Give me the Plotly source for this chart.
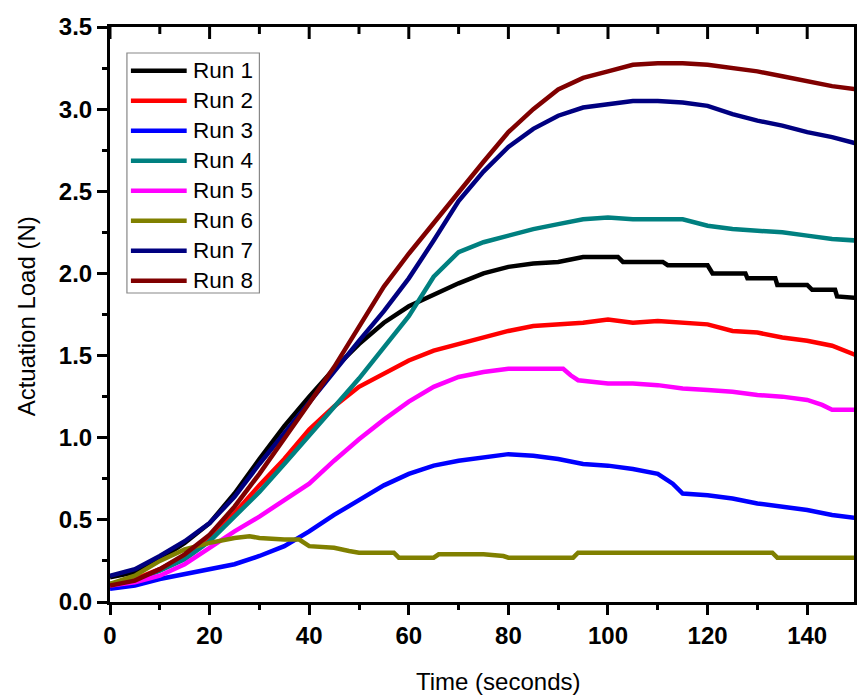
import plotly.graph_objects as go

# ---------------- data ----------------
run_names = ["Run 1", "Run 2", "Run 3", "Run 4", "Run 5", "Run 6", "Run 7", "Run 8"]
run_colors = ["#000000", "#FF0000", "#0000FF", "#008080", "#FF00FF", "#808000", "#000080", "#800000"]

t_grid = [0, 5, 10, 15, 20, 25, 30, 35, 40, 45, 50, 55, 60, 65, 70, 75, 80, 85, 90, 95,
          100, 105, 110, 115, 120, 125, 130, 135, 140, 145, 150]

t_run1 = [0, 5, 10, 15, 20, 25, 30, 35, 40, 45, 50, 55, 60, 65, 70, 75, 80, 85, 90, 95,
          100, 102, 103, 111, 112, 120, 121, 127.6, 128, 133.6, 134, 140, 141, 145.6, 146, 150]
v_run1 = [0.15, 0.18, 0.26, 0.36, 0.48, 0.66, 0.87, 1.07, 1.25, 1.42, 1.57, 1.70, 1.80, 1.87, 1.94, 2.00, 2.04, 2.06, 2.07, 2.10,
          2.10, 2.10, 2.07, 2.07, 2.05, 2.05, 2.00, 2.00, 1.97, 1.97, 1.93, 1.93, 1.90, 1.90, 1.86, 1.85]

t_run2 = t_grid
v_run2 = [0.11, 0.14, 0.20, 0.28, 0.39, 0.54, 0.71, 0.87, 1.05, 1.19, 1.31, 1.39, 1.47, 1.53, 1.57, 1.61, 1.65, 1.68, 1.69, 1.70,
          1.72, 1.70, 1.71, 1.70, 1.69, 1.65, 1.64, 1.61, 1.59, 1.56, 1.50]

t_run3 = [0, 5, 10, 15, 20, 25, 30, 35, 40, 45, 50, 55, 60, 65, 70, 75, 80, 85, 90, 95,
          100, 105, 110, 113, 115, 120, 125, 130, 135, 140, 145, 150]
v_run3 = [0.08, 0.10, 0.14, 0.17, 0.20, 0.23, 0.28, 0.34, 0.43, 0.53, 0.62, 0.71, 0.78, 0.83, 0.86, 0.88, 0.90, 0.89, 0.87, 0.84,
          0.83, 0.81, 0.78, 0.72, 0.66, 0.65, 0.63, 0.60, 0.58, 0.56, 0.53, 0.51]

t_run4 = t_grid
v_run4 = [0.11, 0.13, 0.19, 0.26, 0.37, 0.52, 0.67, 0.84, 1.01, 1.18, 1.36, 1.55, 1.74, 1.98, 2.13, 2.19, 2.23, 2.27, 2.30, 2.33,
          2.34, 2.33, 2.33, 2.33, 2.29, 2.27, 2.26, 2.25, 2.23, 2.21, 2.20]

t_run5 = [0, 5, 10, 15, 20, 25, 30, 35, 40, 45, 50, 55, 60, 65, 70, 75, 80, 85, 91, 92.5, 94,
          100, 105, 110, 115, 120, 125, 130, 135, 140, 143, 145, 150]
v_run5 = [0.10, 0.12, 0.16, 0.23, 0.33, 0.43, 0.52, 0.62, 0.72, 0.86, 0.99, 1.11, 1.22, 1.31, 1.37, 1.40, 1.42, 1.42, 1.42, 1.38, 1.35,
          1.33, 1.33, 1.32, 1.30, 1.29, 1.28, 1.26, 1.25, 1.23, 1.20, 1.17, 1.17]

t_run6 = [0, 5, 10, 15, 20, 25, 28, 30, 35, 38, 40, 45, 48, 50, 57, 58, 65, 66, 70, 75, 79, 80, 93, 94,
          100, 110, 120, 133, 134, 140, 150]
v_run6 = [0.11, 0.16, 0.25, 0.32, 0.36, 0.39, 0.40, 0.39, 0.38, 0.38, 0.34, 0.33, 0.31, 0.30, 0.30, 0.27, 0.27, 0.29, 0.29, 0.29, 0.28, 0.27, 0.27, 0.30,
          0.30, 0.30, 0.30, 0.30, 0.27, 0.27, 0.27]

t_run7 = t_grid
v_run7 = [0.16, 0.20, 0.28, 0.37, 0.48, 0.64, 0.84, 1.03, 1.22, 1.40, 1.59, 1.77, 1.97, 2.20, 2.44, 2.62, 2.77, 2.88, 2.96, 3.01,
          3.03, 3.05, 3.05, 3.04, 3.02, 2.97, 2.93, 2.90, 2.86, 2.83, 2.79]

t_run8 = t_grid
v_run8 = [0.10, 0.13, 0.20, 0.29, 0.41, 0.58, 0.78, 0.99, 1.21, 1.43, 1.68, 1.92, 2.12, 2.31, 2.50, 2.68, 2.86, 3.00, 3.12, 3.19,
          3.23, 3.27, 3.28, 3.28, 3.27, 3.25, 3.23, 3.20, 3.17, 3.14, 3.12]

x_title = "Time (seconds)"
y_title = "Actuation Load (N)"
x_major_ticks = [0, 20, 40, 60, 80, 100, 120, 140]
x_minor_ticks = [10, 30, 50, 70, 90, 110, 130]

series_t = [t_run1, t_run2, t_run3, t_run4, t_run5, t_run6, t_run7, t_run8]
series_v = [v_run1, v_run2, v_run3, v_run4, v_run5, v_run6, v_run7, v_run8]

# ---------------- figure ----------------
W, H = 860, 695
ML, MR, MT, MB = 110, 3, 27, 93
PW, PH = W - ML - MR, H - MT - MB
FONT = "Liberation Sans, Arial, sans-serif"
X_RANGE = [0, 149.4]

fig = go.Figure()
for name, color, tt, vv in zip(run_names, run_colors, series_t, series_v):
    fig.add_trace(go.Scatter(x=tt, y=vv, mode="lines", name=name,
                             line=dict(color=color, width=4.5), showlegend=False))

axis_common = dict(showline=True, linecolor="black", linewidth=3, showgrid=False, zeroline=False,
                   tickcolor="black", tickwidth=3, ticklen=10)

fig.update_layout(
    width=W, height=H,
    margin=dict(l=ML, r=MR, t=MT, b=MB),
    paper_bgcolor="white", plot_bgcolor="white",
    font=dict(family=FONT, color="black"),
    xaxis=dict(range=X_RANGE, tickvals=x_major_ticks, ticks="outside", mirror=True,
               minor=dict(tickvals=x_minor_ticks, ticks="outside", ticklen=5, tickwidth=3, tickcolor="black"),
               tickfont=dict(size=24, family=FONT, weight="bold"), **axis_common),
    yaxis=dict(range=[0, 3.5], dtick=0.5, tickformat=".1f", ticks="outside", mirror=True,
               minor=dict(dtick=0.25, ticks="outside", ticklen=5, tickwidth=3, tickcolor="black"),
               tickfont=dict(size=24, family=FONT, weight="bold"), **axis_common),
)

def px_to_paper(px, py):
    return (px - ML) / PW, (H - MB - py) / PH

annotations = []
shapes = []

# inward ticks along the top frame (as in the original Origin plot), placed in paper units
for tv in x_major_ticks + x_minor_ticks:
    tl = 12 if tv in x_major_ticks else 7
    xp = (tv - X_RANGE[0]) / (X_RANGE[1] - X_RANGE[0])
    shapes.append(dict(type="line", xref="paper", yref="paper", x0=xp, x1=xp, y0=1.0, y1=1.0 - tl / PH,
                       line=dict(color="black", width=3), layer="above"))

# axis titles
ax_x, ax_y = px_to_paper(500, 681)
annotations.append(dict(text=x_title, xref="paper", yref="paper", x=ax_x, y=ax_y, showarrow=False,
                        xanchor="center", yanchor="middle", font=dict(size=24, family=FONT)))
ay_x, ay_y = px_to_paper(26, 316)
annotations.append(dict(text=y_title, xref="paper", yref="paper", x=ay_x, y=ay_y, showarrow=False,
                        textangle=-90, xanchor="center", yanchor="middle", font=dict(size=24, family=FONT)))

# custom legend
bx0, by0 = px_to_paper(127, 293)
bx1, by1 = px_to_paper(260, 53)
shapes.append(dict(type="rect", xref="paper", yref="paper", x0=bx0, y0=by0, x1=bx1, y1=by1,
                   line=dict(color="#888888", width=1.2), fillcolor="white", layer="above"))
for i, (name, color) in enumerate(zip(run_names, run_colors)):
    row_y = 70.7 + 30 * i
    lx0, ly = px_to_paper(131, row_y)
    lx1, _ = px_to_paper(187, row_y)
    shapes.append(dict(type="line", xref="paper", yref="paper", x0=lx0, x1=lx1, y0=ly, y1=ly,
                       line=dict(color=color, width=4.5), layer="above"))
    tx, ty = px_to_paper(191, row_y)
    annotations.append(dict(text=name, xref="paper", yref="paper", x=tx, y=ty, showarrow=False,
                            xanchor="left", yanchor="middle", font=dict(size=22.5, family=FONT)))

fig.update_layout(annotations=annotations, shapes=shapes)
fig.write_html("out.html", config={"displayModeBar": False},
               post_script="document.body.style.margin='0';document.body.style.overflow='hidden';")
